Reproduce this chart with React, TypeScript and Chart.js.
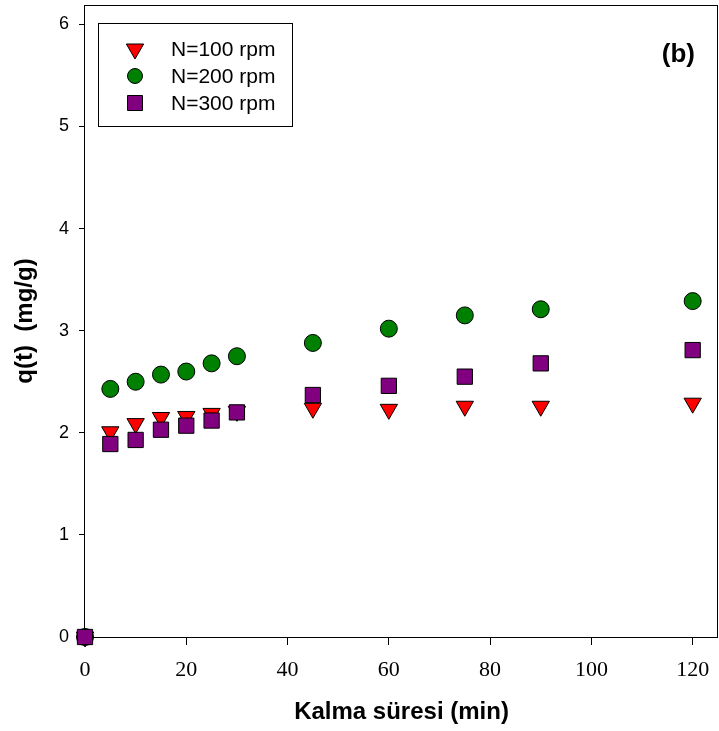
import React, { useEffect, useRef } from "react";
import { Chart, registerables } from "chart.js";

Chart.register(...registerables);

// Contact time (min) and adsorbed amount q(t) (mg/g) at three stirring speeds
const times = [0, 5, 10, 15, 20, 25, 30, 45, 60, 75, 90, 120];
const q100 = [0, 2.01, 2.09, 2.15, 2.16, 2.19, 2.21, 2.24, 2.23, 2.26, 2.26, 2.29];
const q200 = [0, 2.43, 2.5, 2.57, 2.6, 2.68, 2.75, 2.88, 3.02, 3.15, 3.21, 3.29];
const q300 = [0, 1.89, 1.93, 2.03, 2.07, 2.12, 2.2, 2.37, 2.46, 2.55, 2.68, 2.81];

const xTicks = [0, 20, 40, 60, 80, 100, 120];
const yTicks = [0, 1, 2, 3, 4, 5, 6];
const seriesLabels = ["N=100 rpm", "N=200 rpm", "N=300 rpm"];
const seriesColors = ["#FF0000", "#008000", "#800080"];
const panelTag = "(b)";
const xTitle = "Kalma süresi (min)";
const yTitle = "q(t)  (mg/g)";

const SANS = 'Arial, "Liberation Sans", sans-serif';
const SERIF = '"Times New Roman", "Liberation Serif", serif';

function drawMarker(ctx: CanvasRenderingContext2D, kind: string, x: number, y: number, fill: string) {
  ctx.save();
  ctx.fillStyle = fill;
  ctx.strokeStyle = "#000";
  ctx.lineWidth = 1;
  ctx.beginPath();
  if (kind === "triangle") {
    const r = 10;
    ctx.moveTo(x, y + r);
    ctx.lineTo(x - r * 0.866, y - r / 2);
    ctx.lineTo(x + r * 0.866, y - r / 2);
    ctx.closePath();
  } else if (kind === "circle") {
    ctx.arc(x, y, 7.5, 0, Math.PI * 2);
  } else {
    ctx.rect(x - 7.5, y - 7.5, 15, 15);
  }
  ctx.fill();
  ctx.stroke();
  ctx.restore();
}

// Box around the whole plotting area
const framePlugin = {
  id: "frame",
  beforeDatasetsDraw(chart: any) {
    const { ctx, chartArea: ca } = chart;
    ctx.save();
    ctx.strokeStyle = "#000";
    ctx.lineWidth = 1;
    ctx.strokeRect(ca.left - 0.5, ca.top + 0.5, ca.right - ca.left, ca.bottom - ca.top);
    ctx.restore();
  },
};

// Boxed legend in the upper-left corner and the panel tag in the upper-right
const legendPlugin = {
  id: "boxLegend",
  afterDatasetsDraw(chart: any) {
    const { ctx, chartArea: ca } = chart;
    const bx = ca.left + 13;
    const by = ca.top + 18;
    ctx.save();
    ctx.fillStyle = "#fff";
    ctx.fillRect(bx, by, 194, 103);
    ctx.strokeStyle = "#000";
    ctx.lineWidth = 1;
    ctx.strokeRect(bx + 0.5, by + 0.5, 194, 103);
    const kinds = ["triangle", "circle", "rect"];
    const rows = [26, 53, 80];
    ctx.font = `21px ${SANS}`;
    ctx.textBaseline = "middle";
    ctx.textAlign = "left";
    seriesLabels.forEach((label, i) => {
      drawMarker(ctx, kinds[i], bx + 37, by + rows[i], seriesColors[i]);
      ctx.fillStyle = "#000";
      ctx.fillText(label, bx + 73, by + rows[i] + 1);
    });
    ctx.font = `bold 26px ${SANS}`;
    ctx.textAlign = "right";
    ctx.fillStyle = "#000";
    ctx.fillText(panelTag, ca.right - 23, ca.top + 50);
    ctx.restore();
  },
};

function points(values: number[]) {
  return times.map((t, i) => ({ x: t, y: values[i] }));
}

// Drop the label-overhang padding so the plot area fills the canvas edges
function zeroPadding(s: any) {
  s.paddingTop = 0;
  s.paddingBottom = 0;
  s.paddingLeft = 0;
  s.paddingRight = 0;
}

export default function App() {
  const canvasRef = useRef<HTMLCanvasElement | null>(null);

  useEffect(() => {
    const canvas = canvasRef.current;
    if (!canvas) return;
    const common = {
      showLine: false,
      clip: false as any,
      pointBorderColor: "#000",
      pointBorderWidth: 1,
      pointHoverRadius: 0,
    };
    const chart = new Chart(canvas, {
      type: "scatter",
      data: {
        datasets: [
          {
            ...common,
            label: seriesLabels[0],
            data: points(q100),
            pointStyle: "triangle",
            pointRotation: 180,
            pointRadius: 10,
            pointBackgroundColor: seriesColors[0],
            backgroundColor: seriesColors[0],
            order: 2,
          },
          {
            ...common,
            label: seriesLabels[1],
            data: points(q200),
            pointStyle: "circle",
            pointRadius: 8.5,
            pointBackgroundColor: seriesColors[1],
            backgroundColor: seriesColors[1],
            order: 1,
          },
          {
            ...common,
            label: seriesLabels[2],
            data: points(q300),
            pointStyle: "rect",
            pointRadius: 10.8,
            pointBackgroundColor: seriesColors[2],
            backgroundColor: seriesColors[2],
            order: 0,
          },
        ] as any,
      },
      options: {
        responsive: false,
        animation: false,
        layout: { autoPadding: false, padding: { top: 5, right: 1, left: 0, bottom: 0 } },
        plugins: {
          legend: { display: false },
          tooltip: { enabled: false },
        },
        scales: {
          x: {
            type: "linear",
            min: 0,
            max: 125,
            afterBuildTicks: (s: any) => {
              s.ticks = xTicks.map((value) => ({ value }));
            },
            afterFit: (s: any) => {
              s.height = 94;
              zeroPadding(s);
            },
            grid: {
              display: true,
              drawOnChartArea: false,
              drawTicks: true,
              tickLength: 8,
              color: "#000",
            },
            border: { display: false },
            ticks: {
              padding: 12,
              color: "#000",
              maxRotation: 0,
              autoSkip: false,
              font: { family: SERIF, size: 22 },
            },
            title: {
              display: true,
              text: xTitle,
              color: "#000",
              font: { family: SANS, size: 24, weight: "bold" },
              padding: { top: 0, bottom: 4 },
            },
          },
          y: {
            type: "linear",
            min: 0,
            max: 6.19,
            afterBuildTicks: (s: any) => {
              s.ticks = yTicks.map((value) => ({ value }));
            },
            afterFit: (s: any) => {
              s.width = 85;
              zeroPadding(s);
            },
            grid: {
              display: true,
              drawOnChartArea: false,
              drawTicks: true,
              tickLength: 6,
              color: "#000",
            },
            border: { display: false },
            ticks: {
              padding: 10,
              color: "#000",
              autoSkip: false,
              font: { family: SANS, size: 18 },
            },
            title: {
              display: true,
              text: yTitle,
              color: "#000",
              font: { family: SANS, size: 24, weight: "bold" },
              padding: { top: 11, bottom: 0 },
            },
          },
        },
      } as any,
      plugins: [framePlugin, legendPlugin],
    });
    return () => chart.destroy();
  }, []);

  return (
    <div style={{ position: "fixed", left: 0, top: 0, width: 719, height: 731, background: "#fff" }}>
      <canvas ref={canvasRef} width={719} height={731} style={{ display: "block", width: 719, height: 731 }} />
    </div>
  );
}
